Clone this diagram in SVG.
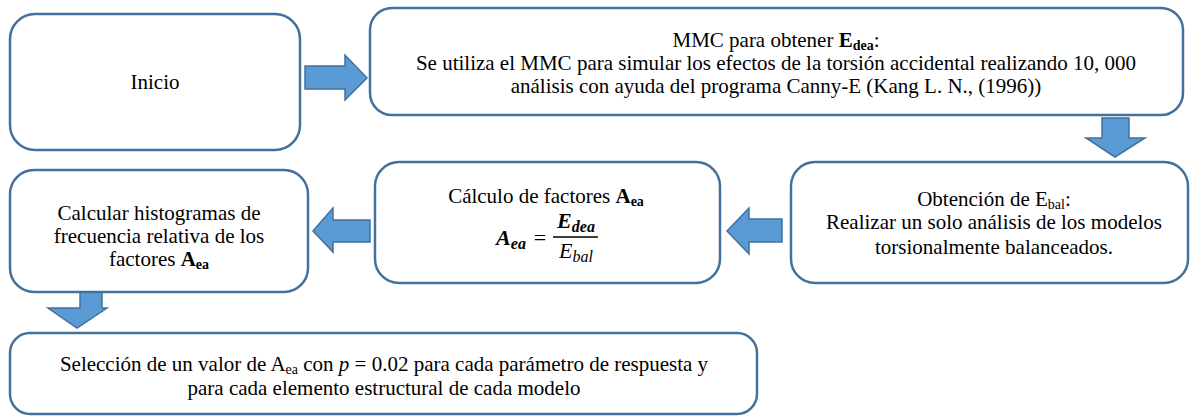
<svg xmlns="http://www.w3.org/2000/svg" width="1197" height="416" viewBox="0 0 1197 416">
<style>
.box{fill:#fff;stroke:#41719C;stroke-width:2.5}
.arr{fill:#5B9BD5;stroke:#41719C;stroke-width:1.5}
text{font-family:'Liberation Serif',serif;font-size:21px;fill:#000;text-anchor:middle}
.sub{font-size:14px}
.f{font-size:22px}
.fs{font-size:16px}
.m{font-weight:bold;font-style:italic}
</style>
<rect width="1197" height="416" fill="#fff"/>
<g id="connectors">
<polygon class="arr" points="305,66 345,66 345,55 367,78 345,100 345,89 305,89"/>
<polygon class="arr" points="1102,118 1129,118 1129,138 1145,138 1115,157 1086,138 1102,138"/>
<polygon class="arr" points="782,219 749,219 749,208 727,231 749,254 749,242 782,242"/>
<polygon class="arr" points="370,220 333,220 333,208 313,231 333,252 333,242 370,242"/>
<polygon class="arr" points="80,290 102,290 102,308 107,308 77,328 48,308 80,308"/>
</g>
<g font-family="Liberation Serif, serif">
<g id="inicio">
<rect class="box" x="10" y="14" width="290" height="136" rx="25"/>
<text x="155" y="89">Inicio</text>
</g>
<g id="mmc">
<rect class="box" x="370" y="8" width="813" height="107" rx="22"/>
<text x="776" y="47">MMC para obtener <tspan font-weight="bold">E</tspan><tspan class="sub" font-weight="bold" dy="3">dea</tspan><tspan dy="-3">:</tspan></text>
<text x="776" y="70">Se utiliza el MMC para simular los efectos de la torsión accidental realizando 10, 000</text>
<text x="776" y="93">análisis con ayuda del programa Canny-E (Kang L. N., (1996))</text>
</g>
<g id="ebal">
<rect class="box" x="791" y="162" width="397" height="121" rx="24"/>
<text x="994" y="206">Obtención de E<tspan class="sub" dy="3">bal</tspan><tspan dy="-3">:</tspan></text>
<text x="994" y="229">Realizar un solo análisis de los modelos</text>
<text x="994" y="254">torsionalmente balanceados.</text>
</g>
<g id="calculo">
<rect class="box" x="375" y="162" width="345" height="121" rx="24"/>
<text x="546" y="203">Cálculo de factores <tspan font-weight="bold">A</tspan><tspan class="sub" font-weight="bold" dy="3">ea</tspan></text>
<text x="511" y="245" class="m f">A<tspan class="fs" dy="4">ea</tspan></text>
<text x="540" y="245" class="f" font-size="24">=</text>
<text x="576" y="228" class="m f">E<tspan class="fs" dy="4">dea</tspan></text>
<line x1="553" y1="237" x2="598" y2="237" stroke="#000" stroke-width="1.4"/>
<text x="576" y="258" class="f" font-style="italic">E<tspan class="fs" dy="4">bal</tspan></text>
</g>
<g id="histogramas">
<rect class="box" x="10" y="170" width="298" height="122" rx="24"/>
<text x="159" y="220">Calcular histogramas de</text>
<text x="159" y="243">frecuencia relativa de los</text>
<text x="159" y="266">factores <tspan font-weight="bold">A</tspan><tspan class="sub" font-weight="bold" dy="3">ea</tspan></text>
</g>
<g id="seleccion">
<rect class="box" x="10" y="333" width="747" height="81" rx="20"/>
<text x="384" y="371">Selección de un valor de A<tspan class="sub" dy="3">ea</tspan><tspan dy="-3"> con </tspan><tspan font-style="italic">p</tspan> = 0.02 para cada parámetro de respuesta y</text>
<text x="384" y="395">para cada elemento estructural de cada modelo</text>
</g>
</g>
</svg>
